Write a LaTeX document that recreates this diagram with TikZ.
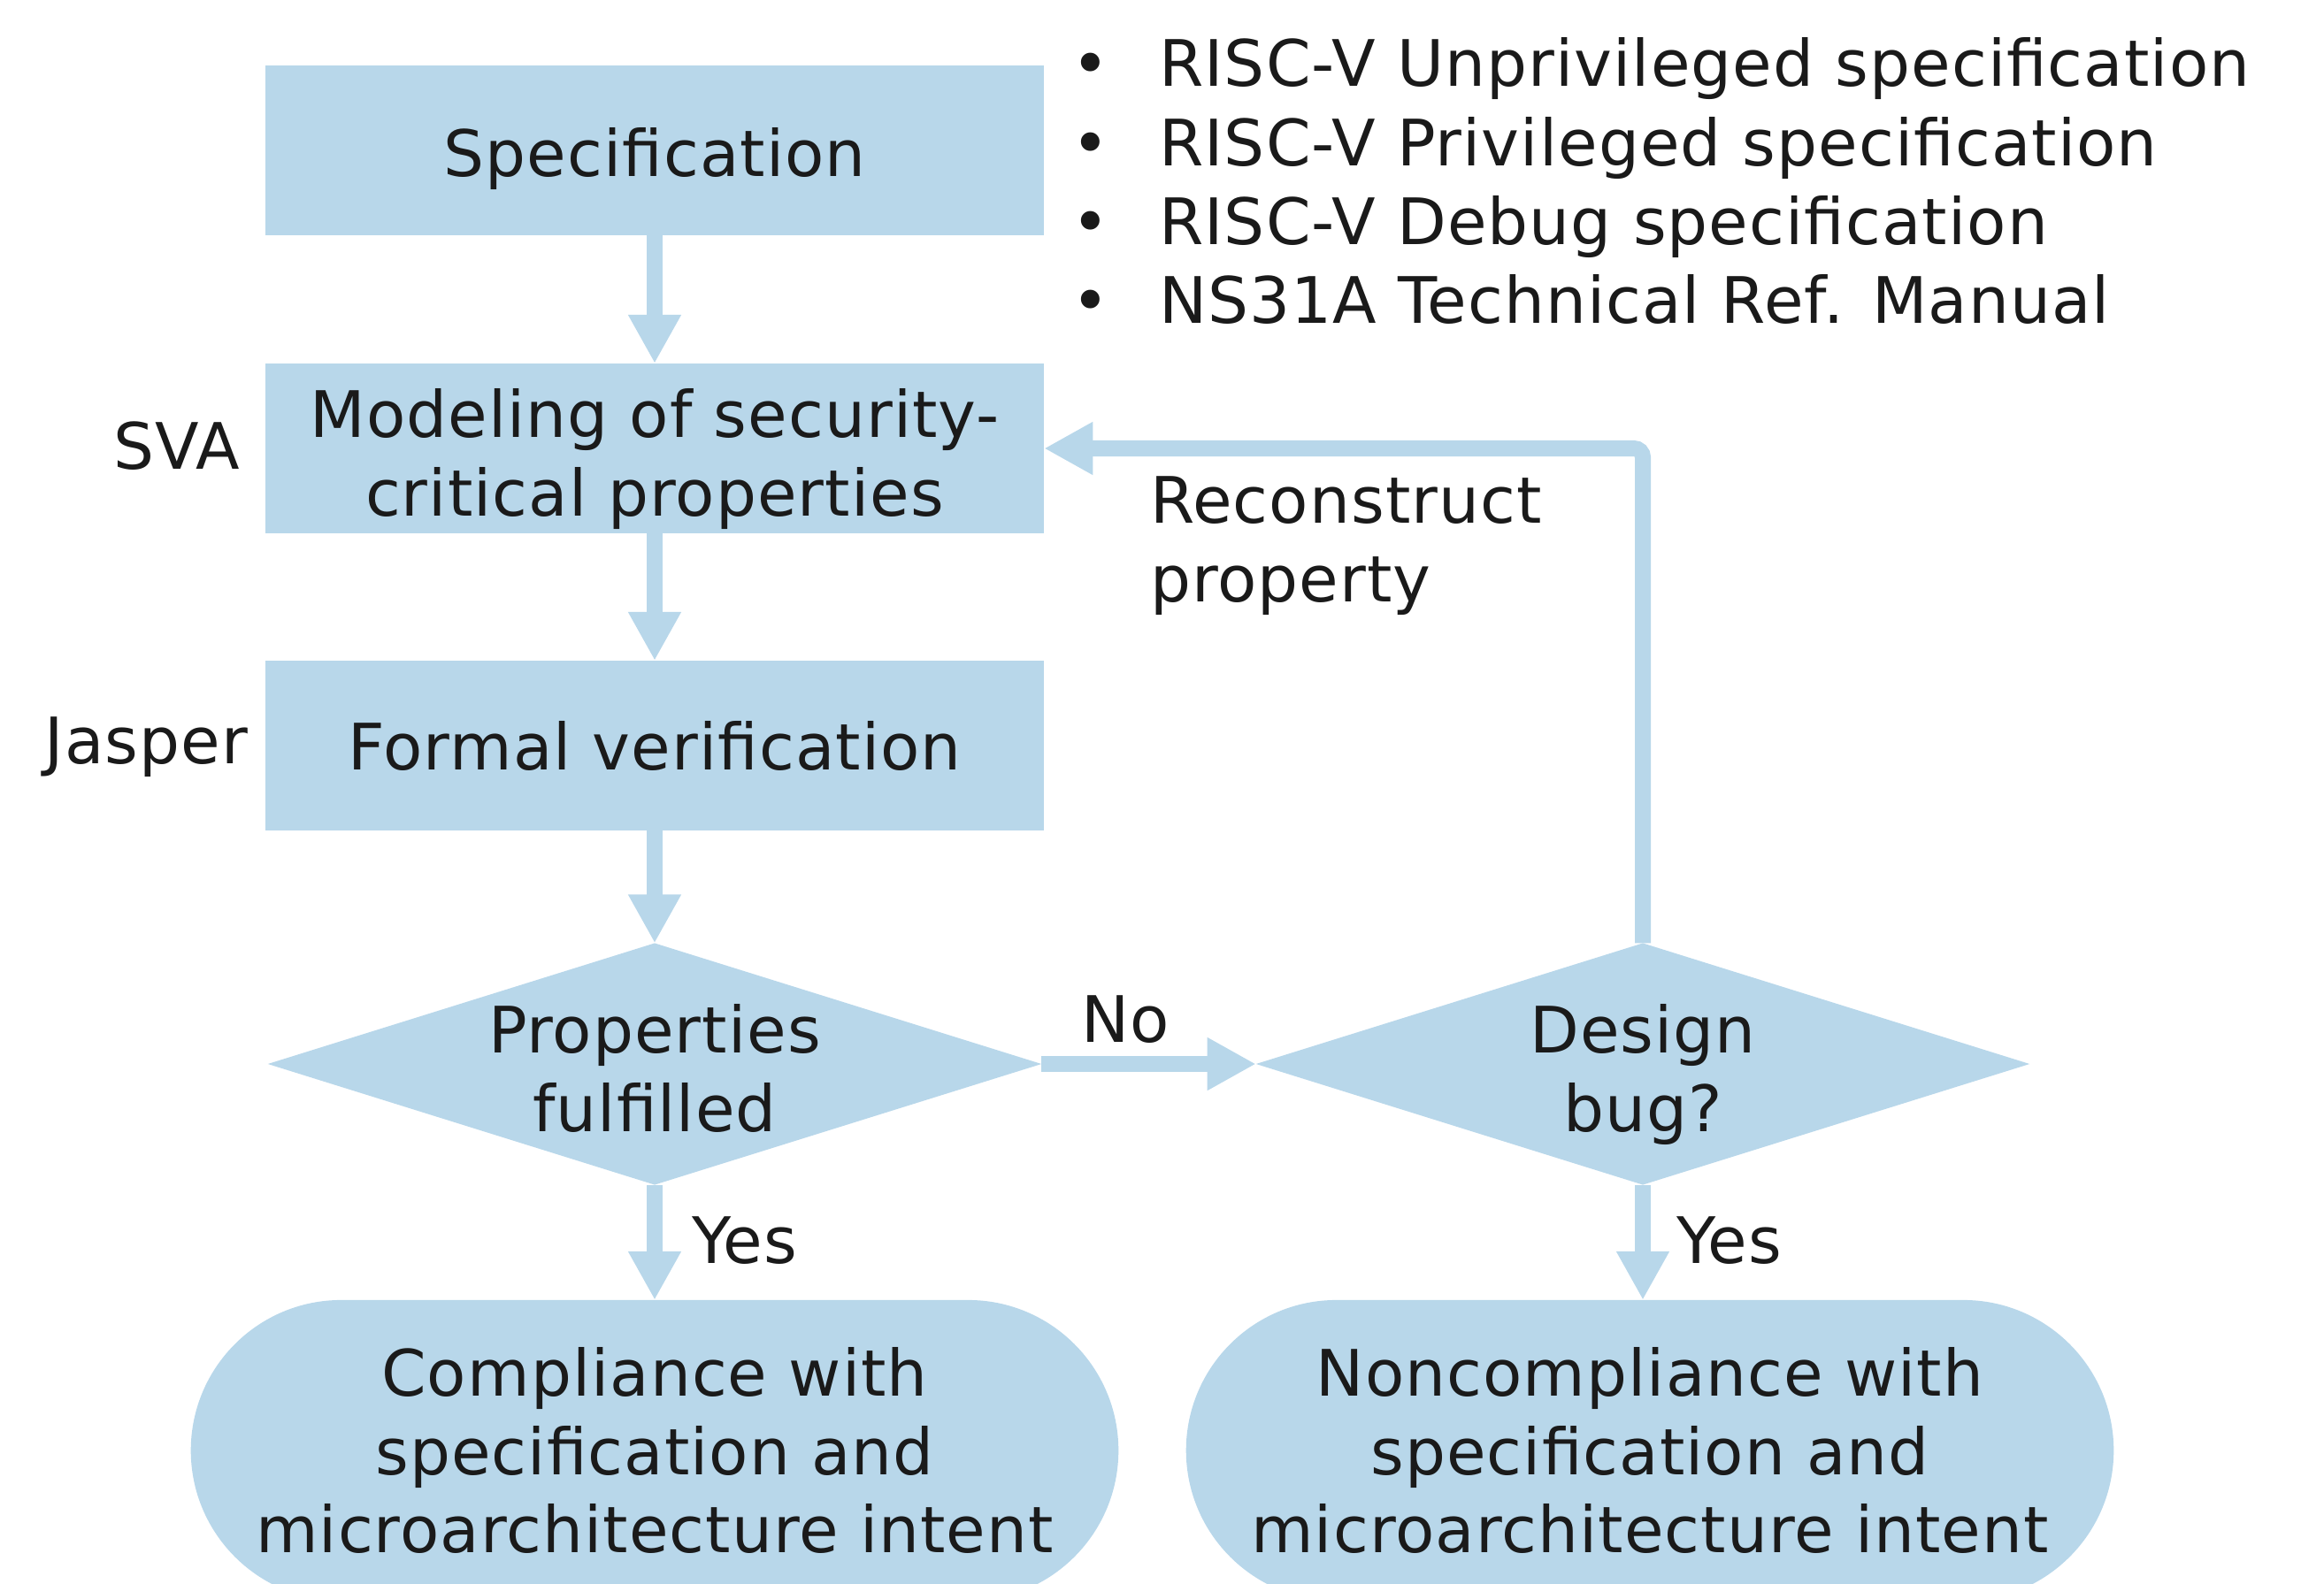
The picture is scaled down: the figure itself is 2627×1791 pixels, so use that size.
\documentclass[tikz,border=0pt]{standalone}
\usepackage{fontspec}
\setmainfont{DejaVu Sans}[LetterSpace=1.5]
\usetikzlibrary{arrows.meta,shapes.geometric}
\definecolor{boxblue}{HTML}{B8D7EA}
\definecolor{inkgray}{HTML}{1A1A1A}
\newcommand{\lowertext}[2]{\raisebox{-#1}[\height][\depth]{#2}}

\begin{document}
\begin{tikzpicture}[x=0.01cm, y=-0.01cm,
    >={Triangle[length=0.55cm,width=0.56cm]},
    every node/.style={text=inkgray, font=\fontsize{20.6}{25.3}\selectfont, inner sep=0pt, outer sep=0pt},
    stepbox/.style={rectangle, fill=boxblue, minimum width=8.8cm, minimum height=1.92cm, align=center},
    decision/.style={diamond, fill=boxblue, minimum width=8.74cm, minimum height=2.73cm},
    terminal/.style={rectangle, rounded corners=1.7cm, fill=boxblue, minimum width=10.48cm, minimum height=3.4cm, align=center},
    flow/.style={->, draw=boxblue, line width=0.18cm}]

		\clip (0,0) rectangle (2627,1791);

		% Cajas del flujo principal
		\node[stepbox] (spec) at (740,170) {\lowertext{0.1cm}{Specification}};
		\node[stepbox] (model) at (740,507) {\lowertext{0.12cm}{Modeling of security-}\\\lowertext{0.12cm}{critical properties}};
		\node[stepbox] (formal) at (740,843) {Formal verification};

		% Decisiones
		\node[decision, label={[align=center, yshift=-0.05cm]center:Properties\\fulfilled}] (prop) at (740,1203) {};
		\node[decision, label={[align=center, yshift=-0.12cm]center:Design\\bug?}] (bug) at (1857,1203) {};

		% Resultados
		\node[terminal] (comp) at (740,1640) {Compliance with\\specification and\\microarchitecture intent};
		\node[terminal] (noncomp) at (1865,1640) {Noncompliance with\\specification and\\microarchitecture intent};

		% Etiquetas
		\node[anchor=base east] (sva) at (271,530) {SVA};
		\node[anchor=base east] (jasper) at (280,863) {Jasper};
		\node[anchor=north west, align=left] (recon) at (1300,539) {Reconstruct\\property};
		\node[anchor=base] (no) at (1272,1178) {No};
		\node[anchor=base west] (yes-l) at (782,1428) {Yes};
		\node[anchor=base west] (yes-r) at (1895,1428) {Yes};

		% Lista de especificaciones
		\foreach \t [count=\i] in {RISC-V Unprivileged specification, RISC-V Privileged specification, RISC-V Debug specification, NS31A Technical Ref. Manual}
		\node[anchor=base west] (doc-\i) at (1211,{98+89.3*(\i-1)}) {\makebox[0.99cm][l]{•}\t};

		% Conexiones
		\draw[flow] (spec) -- (model);
		\draw[flow] (model) -- (formal);
		\draw[flow] (formal) -- (prop);
		\draw[flow] (prop) -- (comp);
		\draw[flow] (prop) -- (bug);
		\draw[flow] (bug.south) -- (bug.south |- noncomp.north);
		\draw[flow, rounded corners=0.1cm] (bug.north) |- (model.east);

\end{tikzpicture}
\end{document}
